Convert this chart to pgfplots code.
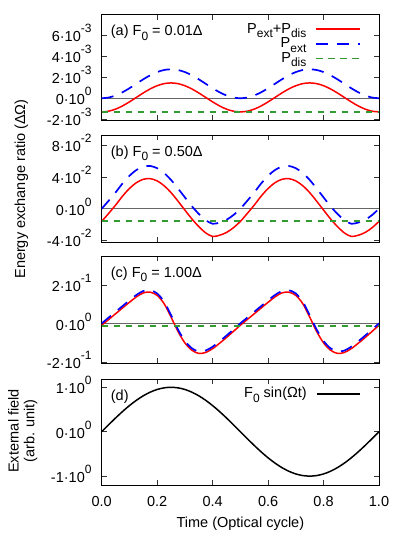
\documentclass[border=0pt]{standalone}
\usepackage{fontspec}
\setmainfont{Liberation Sans}
\usepackage{pgfplots}
\usepackage{pgfplotstable}
\pgfplotsset{compat=1.18}
\definecolor{cred}{RGB}{255,0,0}
\definecolor{cblue}{RGB}{0,0,255}
\definecolor{cgreen}{RGB}{50,155,50}
\newcommand\sups[1]{\raisebox{9pt}{\fontsize{12}{12}\selectfont #1}}
\newcommand\subs[1]{\raisebox{-4.3pt}{\fontsize{12}{12}\selectfont #1}}

\pgfplotstableread{
t red blue
0.000 -1.300 0.000
0.025 -1.232 0.068
0.050 -1.036 0.264
0.075 -0.731 0.569
0.100 -0.346 0.954
0.125 0.080 1.380
0.150 0.506 1.806
0.175 0.891 2.191
0.200 1.196 2.496
0.225 1.393 2.693
0.250 1.460 2.760
0.275 1.393 2.693
0.300 1.196 2.496
0.325 0.891 2.191
0.350 0.506 1.806
0.375 0.080 1.380
0.400 -0.346 0.954
0.425 -0.731 0.569
0.450 -1.036 0.264
0.475 -1.232 0.068
0.500 -1.300 0.000
0.525 -1.232 0.068
0.550 -1.036 0.264
0.575 -0.731 0.569
0.600 -0.346 0.954
0.625 0.080 1.380
0.650 0.506 1.806
0.675 0.891 2.191
0.700 1.196 2.496
0.725 1.393 2.693
0.750 1.460 2.760
0.775 1.393 2.693
0.800 1.196 2.496
0.825 0.891 2.191
0.850 0.506 1.806
0.875 0.080 1.380
0.900 -0.346 0.954
0.925 -0.731 0.569
0.950 -1.036 0.264
0.975 -1.232 0.068
1.000 -1.300 0.000
}\tabA

\pgfplotstableread{
t red blue
0.000 -1.60 0.00
0.025 -0.60 1.00
0.050 0.45 2.05
0.075 1.58 3.18
0.100 2.55 4.15
0.125 3.28 4.88
0.150 3.71 5.31
0.175 3.79 5.39
0.200 3.51 5.11
0.225 2.90 4.50
0.250 2.03 3.63
0.275 0.96 2.56
0.300 -0.17 1.43
0.325 -1.28 0.32
0.350 -2.25 -0.65
0.375 -3.05 -1.45
0.400 -3.50 -1.90
0.425 -3.35 -1.75
0.450 -3.00 -1.40
0.475 -2.40 -0.80
0.500 -1.60 0.00
0.525 -0.60 1.00
0.550 0.45 2.05
0.575 1.58 3.18
0.600 2.55 4.15
0.625 3.28 4.88
0.650 3.71 5.31
0.675 3.79 5.39
0.700 3.51 5.11
0.725 2.90 4.50
0.750 2.03 3.63
0.775 0.96 2.56
0.800 -0.17 1.43
0.825 -1.28 0.32
0.850 -2.25 -0.65
0.875 -3.05 -1.45
0.900 -3.50 -1.90
0.925 -3.35 -1.75
0.950 -3.00 -1.40
0.975 -2.40 -0.80
1.000 -1.60 0.00
}\tabB

\pgfplotstableread{
t red blue
0.000 -0.08 0.02
0.025 0.22 0.32
0.050 0.52 0.62
0.075 0.82 0.92
0.100 1.12 1.22
0.125 1.40 1.50
0.150 1.61 1.71
0.175 1.65 1.75
0.200 1.48 1.58
0.225 1.05 1.15
0.250 0.35 0.45
0.275 -0.40 -0.30
0.300 -1.00 -0.90
0.325 -1.38 -1.28
0.350 -1.55 -1.45
0.375 -1.50 -1.40
0.400 -1.30 -1.20
0.425 -1.02 -0.92
0.450 -0.72 -0.62
0.475 -0.40 -0.30
0.500 -0.08 0.02
0.525 0.22 0.32
0.550 0.52 0.62
0.575 0.82 0.92
0.600 1.12 1.22
0.625 1.40 1.50
0.650 1.61 1.71
0.675 1.65 1.75
0.700 1.48 1.58
0.725 1.05 1.15
0.750 0.35 0.45
0.775 -0.40 -0.30
0.800 -1.00 -0.90
0.825 -1.38 -1.28
0.850 -1.55 -1.45
0.875 -1.50 -1.40
0.900 -1.30 -1.20
0.925 -1.02 -0.92
0.950 -0.72 -0.62
0.975 -0.40 -0.30
1.000 -0.08 0.02
}\tabC

\pgfplotstableread{
t f
0.000 0.0000
0.025 0.1564
0.050 0.3090
0.075 0.4540
0.100 0.5878
0.125 0.7071
0.150 0.8090
0.175 0.8910
0.200 0.9511
0.225 0.9877
0.250 1.0000
0.275 0.9877
0.300 0.9511
0.325 0.8910
0.350 0.8090
0.375 0.7071
0.400 0.5878
0.425 0.4540
0.450 0.3090
0.475 0.1564
0.500 0.0000
0.525 -0.1564
0.550 -0.3090
0.575 -0.4540
0.600 -0.5878
0.625 -0.7071
0.650 -0.8090
0.675 -0.8910
0.700 -0.9511
0.725 -0.9877
0.750 -1.0000
0.775 -0.9877
0.800 -0.9511
0.825 -0.8910
0.850 -0.8090
0.875 -0.7071
0.900 -0.5878
0.925 -0.4540
0.950 -0.3090
0.975 -0.1564
1.000 0.0000
}\tabD

\pgfplotsset{
  myax/.style={
    scale only axis, width=277.3pt,
    xmin=0, xmax=1,
    xtick={0,0.2,0.4,0.6,0.8,1},
    xticklabels={},
    tick pos=both, tick align=inside, major tick length=5pt,
    axis line style={line width=0.9pt},
    tick style={black!80, line width=0.6pt},
    yticklabel style={anchor=base east, inner sep=0pt, xshift=-10pt, yshift=-6.4pt},
    legend style={draw=none, fill=none, inner sep=0pt, outer sep=0pt,
      at={(1,1)}, anchor=north east, xshift=-18.3pt, yshift=-8.6pt,
      row sep=0pt, column sep=9pt,
      nodes={inner sep=0pt, text height=10pt, text depth=4.7pt}},
    legend cell align=right, legend plot pos=right,
    legend image code/.code={\draw[##1] (0pt,1.5pt) -- (43.4pt,1.5pt);},
  },
  zl/.style={forget plot, black!60, line width=0.7pt},
  rs/.style={cred, line width=1.5pt, smooth},
  bs/.style={cblue, line width=1.7pt, smooth, dash pattern=on 12pt off 9pt},
  gs/.style={cgreen, line width=1.9pt, dash pattern=on 6.5pt off 5.5pt},
}

\begin{document}
\fontsize{14.5}{17}\selectfont
\begin{tikzpicture}[font=\fontsize{14.5}{17}\selectfont]
\path (0,0) rectangle (395pt,-543pt);

% (a)
\begin{axis}[myax, at={(101.7pt,-14.7pt)}, anchor=north west, height=105.6pt,
  ymin=-2.1, ymax=7.96,
  ytick={-2,0,2,4,6},
  yticklabels={-2·10\sups{-3}, 0·10\sups{0}, 2·10\sups{-3}, 4·10\sups{-3}, 6·10\sups{-3}}]
\addplot[zl] coordinates {(0,0) (1,0)};
\addplot[rs] table[x=t,y=red]{\tabA};
\addlegendentry{P\subs{ext}+P\subs{dis}}
\addplot[bs] table[x=t,y=blue]{\tabA};
\addlegendentry{P\subs{ext}}
\addplot[gs] coordinates {(0,-1.3) (1,-1.3)};
\addlegendentry{P\subs{dis}}
\node[anchor=base west, inner sep=0pt] at (rel axis cs:0,1) [xshift=9pt, yshift=-21.3pt] {(a) F\subs{0} = 0.01Δ};
\end{axis}

% (b)
\begin{axis}[myax, at={(101.7pt,-135.3pt)}, anchor=north west, height=106.7pt,
  ymin=-4.2, ymax=9.26,
  ytick={-4,0,4,8},
  yticklabels={-4·10\sups{-2}, 0·10\sups{0}, 4·10\sups{-2}, 8·10\sups{-2}}]
\addplot[zl] coordinates {(0,0) (1,0)};
\addplot[rs] table[x=t,y=red]{\tabB};
\addplot[bs] table[x=t,y=blue]{\tabB};
\addplot[gs] coordinates {(0,-1.6) (1,-1.6)};
\node[anchor=base west, inner sep=0pt] at (rel axis cs:0,1) [xshift=9pt, yshift=-21.3pt] {(b) F\subs{0} = 0.50Δ};
\end{axis}

% (c)
\begin{axis}[myax, at={(101.7pt,-256.3pt)}, anchor=north west, height=106.7pt,
  ymin=-2.05, ymax=3.52,
  ytick={-2,0,2},
  yticklabels={-2·10\sups{-1}, 0·10\sups{0}, 2·10\sups{-1}}]
\addplot[zl] coordinates {(0,0) (1,0)};
\addplot[rs] table[x=t,y=red]{\tabC};
\addplot[bs] table[x=t,y=blue]{\tabC};
\addplot[gs] coordinates {(0,-0.12) (1,-0.12)};
\node[anchor=base west, inner sep=0pt] at (rel axis cs:0,1) [xshift=9pt, yshift=-21.3pt] {(c) F\subs{0} = 1.00Δ};
\end{axis}

% (d)
\begin{axis}[myax, at={(101.7pt,-379.3pt)}, anchor=north west, height=105.7pt,
  ymin=-1.2, ymax=1.18,
  ytick={-1,0,1},
  yticklabels={-1·10\sups{0}, 0·10\sups{0}, 1·10\sups{0}},
  xticklabels={0.0,0.2,0.4,0.6,0.8,1.0},
  xticklabel style={anchor=base, inner sep=0pt, yshift=-21.7pt},
  xlabel={Time (Optical cycle)},
  xlabel style={at={(axis description cs:0.5,0)}, anchor=base, inner sep=0pt, yshift=-42.3pt}]
\addplot[black, line width=1.5pt, smooth] table[x=t,y=f]{\tabD};
\addlegendentry{F\subs{0} sin(Ωt)}
\node[anchor=base west, inner sep=0pt] at (rel axis cs:0,1) [xshift=9pt, yshift=-21.3pt] {(d)};
\end{axis}

\node[rotate=90, anchor=base, inner sep=0pt] at (25pt,-189pt) {Energy exchange ratio (ΔΩ)};
\node[rotate=90, anchor=base, inner sep=0pt] at (18.7pt,-431pt) {External field};
\node[rotate=90, anchor=base, inner sep=0pt] at (34.3pt,-431pt) {(arb. unit)};
\end{tikzpicture}
\end{document}
